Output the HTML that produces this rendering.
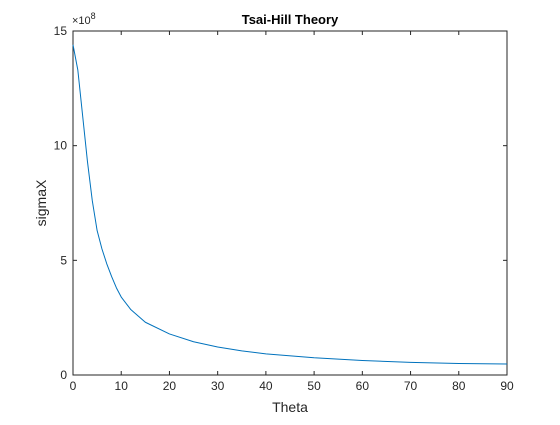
<!DOCTYPE html>
<html><head><meta charset="utf-8"><style>
body{margin:0;background:#fff;}
svg text{font-family:"Liberation Sans",sans-serif;}
</style></head><body>
<svg id="chart" width="560" height="420">
<rect x="0" y="0" width="560" height="420" fill="#fff"/>
<rect x="73" y="31" width="434" height="344" fill="#fff" stroke="#262626" stroke-width="1"/>
<g id="ticks"></g>
<path id="line" fill="none" stroke="#0072bd" stroke-width="1" stroke-linejoin="round"/>
<text x="290" y="24" text-anchor="middle" font-size="13" font-weight="bold" fill="#000">Tsai-Hill Theory</text>
<text x="290" y="412" text-anchor="middle" font-size="14" fill="#262626">Theta</text>
<text transform="translate(46,203) rotate(-90)" text-anchor="middle" font-size="14" fill="#262626">sigmaX</text>
<text x="72" y="24" font-size="11" fill="#262626">×10<tspan dy="-5" font-size="9">8</tspan></text>
</svg>
<script>
const thetaValues=[0,1,2,3,4,5,6,7,8,9,10,12,15,20,25,30,35,40,50,60,70,80,90];
const sigmaValues=[14.4,13.3,11.3,9.3,7.6,6.3,5.5,4.85,4.3,3.8,3.4,2.85,2.3,1.79,1.45,1.22,1.05,0.92,0.75,0.63,0.55,0.5,0.48];
const xTickLabels=[0,10,20,30,40,50,60,70,80,90];
const yTickLabels=[0,5,10,15];
const L=73,R=507,T=31,B=375;
function xs(v){return L+(v-0)/90*(R-L);}
function ys(v){return B-(v-0)/15*(B-T);}
const ns="http://www.w3.org/2000/svg";
const g=document.getElementById('ticks');
function mk(tag,attrs){const e=document.createElementNS(ns,tag);for(const k in attrs)e.setAttribute(k,attrs[k]);return e;}
xTickLabels.forEach(v=>{
  const x=xs(v);
  const t1=mk('line',{x1:x,x2:x,y1:B,y2:B-4,stroke:'#262626'});
  
  
  g.appendChild(t1);
  const t2=mk('line',{x1:x,x2:x,y1:T,y2:T+4,stroke:'#262626'});
  
  
  g.appendChild(t2);
  const tx=mk('text',{x:x,y:B+15,'text-anchor':'middle','font-size':'12',fill:'#262626'});
  tx.textContent=v;
  
  
  g.appendChild(tx);
});
yTickLabels.forEach(v=>{
  const y=ys(v);
  const t1=mk('line',{x1:L,x2:L+4,y1:y,y2:y,stroke:'#262626'});
  
  
  g.appendChild(t1);
  const t2=mk('line',{x1:R,x2:R-4,y1:y,y2:y,stroke:'#262626'});
  
  
  g.appendChild(t2);
  const tx=mk('text',{x:L-6,y:y+4,'text-anchor':'end','font-size':'12',fill:'#262626'});
  tx.textContent=v;
  
  
  g.appendChild(tx);
});
let d='';
thetaValues.forEach((t,i)=>{d+=(i?'L':'M')+xs(t).toFixed(2)+','+ys(sigmaValues[i]).toFixed(2);});
document.getElementById('line').setAttribute('d',d);
</script>
</body></html>
